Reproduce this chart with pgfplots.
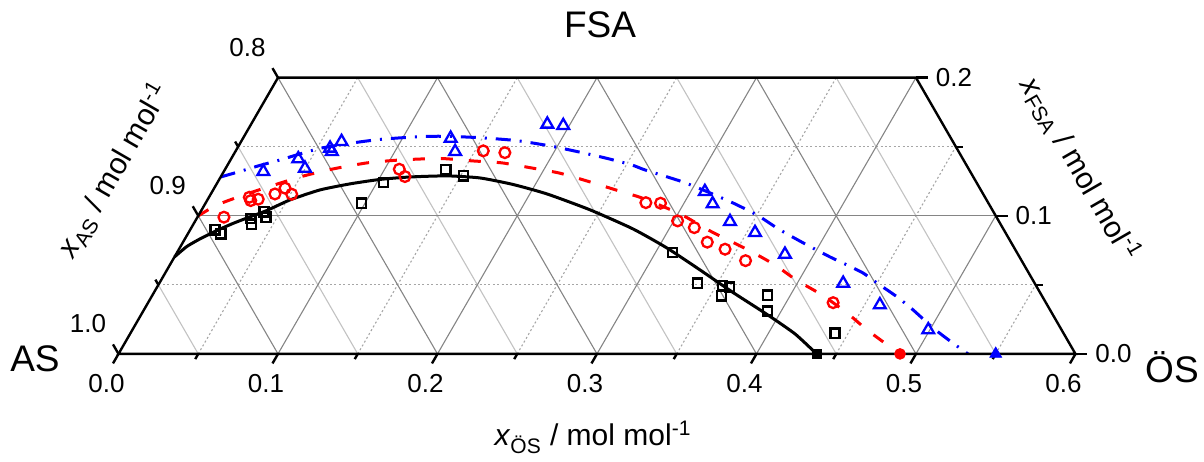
\documentclass[border=0pt]{standalone}
\usepackage{fontspec}
\setmainfont{Liberation Sans}
\usepackage{pgfplots}
\pgfplotsset{compat=1.18}
\usepackage{pgfplotstable}

% compositions: mole fractions of OES and FSA
\pgfplotstableread{
xOS xFSA
0.0156 0.0898
0.0207 0.0869
0.0340 0.0982
0.0365 0.0939
0.0398 0.1028
0.0430 0.0990
0.0979 0.1091
0.1040 0.1240
0.1387 0.1332
0.1518 0.1289
0.3108 0.0733
0.3375 0.0512
0.3542 0.0492
0.3588 0.0483
0.3572 0.0420
0.3856 0.0425
0.3914 0.0311
0.4417 0.0150
}\sqdata

\pgfplotstableread{
xOS xFSA
0.0166 0.0990
0.0253 0.1134
0.0274 0.1110
0.0316 0.1120
0.0402 0.1158
0.0444 0.1200
0.0508 0.1156
0.1092 0.1337
0.1154 0.1284
0.1552 0.1470
0.1694 0.1457
0.2759 0.1095
0.2853 0.1091
0.3024 0.0963
0.3153 0.0914
0.3287 0.0809
0.3424 0.0758
0.3594 0.0675
0.4295 0.0371
}\circdata

\pgfplotstableread{
xOS xFSA
0.0248 0.1320
0.0421 0.1412
0.0497 0.1344
0.0582 0.1489
0.0605 0.1465
0.0630 0.1537
0.1302 0.1561
0.1378 0.1465
0.1857 0.1663
0.1962 0.1653
0.3089 0.1175
0.3182 0.1086
0.3355 0.0958
0.3552 0.0878
0.3818 0.0721
0.4288 0.0511
0.4596 0.0355
0.4990 0.0174
}\tridata

% fitted curves
\pgfplotstableread{
xOS xFSA
0.0000 0.0702
0.0040 0.0778
0.0095 0.0833
0.0171 0.0894
0.0246 0.0945
0.0328 0.0992
0.0412 0.1039
0.0518 0.1115
0.0669 0.1187
0.0836 0.1231
0.1007 0.1263
0.1187 0.1281
0.1416 0.1289
0.1629 0.1274
0.1859 0.1227
0.2108 0.1158
0.2435 0.1043
0.2773 0.0905
0.3055 0.0767
0.3342 0.0608
0.3630 0.0445
0.3923 0.0286
0.4169 0.0145
0.4377 0.0000
}\blackfit

\pgfplotstableread{
xOS xFSA
0.0000 0.0999
0.0079 0.1079
0.0241 0.1166
0.0497 0.1281
0.0675 0.1339
0.0867 0.1383
0.1063 0.1404
0.1308 0.1415
0.1524 0.1397
0.1713 0.1383
0.1913 0.1347
0.2107 0.1310
0.2311 0.1252
0.2525 0.1187
0.2717 0.1129
0.3013 0.1014
0.3279 0.0883
0.3571 0.0753
0.3794 0.0644
0.3980 0.0536
0.4197 0.0427
0.4419 0.0297
0.4606 0.0174
0.4812 0.0051
0.4900 0.0000
}\redfit

\pgfplotstableread{
xOS xFSA
0.0000 0.1281
0.0101 0.1321
0.0205 0.1365
0.0311 0.1404
0.0414 0.1448
0.0519 0.1488
0.0632 0.1513
0.0747 0.1535
0.0863 0.1553
0.0983 0.1564
0.1147 0.1575
0.1291 0.1575
0.1503 0.1564
0.1726 0.1544
0.1952 0.1506
0.2143 0.1465
0.2283 0.1433
0.2377 0.1410
0.2535 0.1368
0.2635 0.1332
0.2916 0.1245
0.3125 0.1166
0.3306 0.1093
0.3500 0.1006
0.3698 0.0898
0.3922 0.0789
0.4110 0.0702
0.4245 0.0644
0.4375 0.0586
0.4498 0.0514
0.4675 0.0413
0.4822 0.0319
0.5013 0.0188
0.5166 0.0094
0.5326 0.0000
}\bluefit

\pgfplotstableread{
xOS xFSA
0.4377 0
}\sqend
\pgfplotstableread{
xOS xFSA
0.4900 0
}\circend
\pgfplotstableread{
xOS xFSA
0.5500 0
}\triend

\newcommand\tickfont{\fontsize{13}{15}\selectfont}
\newcommand\titlefont{\fontsize{15}{18}\selectfont}
\newcommand\cornerfont{\fontsize{18.5}{21}\selectfont}

\pgfplotsset{
  tern/.style={/pgfplots/table/x expr=\thisrow{xOS}+0.5*\thisrow{xFSA},
               /pgfplots/table/y expr=0.866025*\thisrow{xFSA}},
}

\begin{document}
\begin{tikzpicture}[
  majg/.style={draw=black!48, line width=0.55pt},
  ming/.style={draw=black!24, line width=0.55pt},
  dotg/.style={draw=black!35, line width=0.55pt, dash pattern=on 1pt off 1.2pt},
  frm/.style={draw=black, line width=1.2pt},
]
\begin{axis}[
  hide axis, clip=false,
  x=797.5pt, y=797.5pt,
  xmin=-0.0743, xmax=0.6806, ymin=-0.0677, ymax=0.2219,
]
\coordinate (bbSW) at (axis cs:-0.0743,-0.0677);
\coordinate (bbNE) at (axis cs:0.6806,0.2219);

% dotted grid
\draw[dotg] (axis cs:0.025,0.043301) -- (axis cs:0.575,0.043301);
\draw[dotg] (axis cs:0.075,0.129904) -- (axis cs:0.525,0.129904);
\draw[dotg] (axis cs:0.05,0) -- (axis cs:0.15,0.173205);
\draw[dotg] (axis cs:0.15,0) -- (axis cs:0.25,0.173205);
\draw[dotg] (axis cs:0.25,0) -- (axis cs:0.35,0.173205);
\draw[dotg] (axis cs:0.35,0) -- (axis cs:0.45,0.173205);
\draw[dotg] (axis cs:0.45,0) -- (axis cs:0.525,0.129904);
\draw[dotg] (axis cs:0.55,0) -- (axis cs:0.575,0.043301);
% light solid grid
\draw[ming] (axis cs:0.05,0) -- (axis cs:0.025,0.043301);
\draw[ming] (axis cs:0.15,0) -- (axis cs:0.075,0.129904);
\draw[ming] (axis cs:0.25,0) -- (axis cs:0.15,0.173205);
\draw[ming] (axis cs:0.35,0) -- (axis cs:0.25,0.173205);
\draw[ming] (axis cs:0.45,0) -- (axis cs:0.35,0.173205);
\draw[ming] (axis cs:0.55,0) -- (axis cs:0.45,0.173205);
% major grid
\draw[majg] (axis cs:0.05,0.086603) -- (axis cs:0.55,0.086603);
\draw[majg] (axis cs:0.1,0) -- (axis cs:0.2,0.173205);
\draw[majg] (axis cs:0.2,0) -- (axis cs:0.3,0.173205);
\draw[majg] (axis cs:0.3,0) -- (axis cs:0.4,0.173205);
\draw[majg] (axis cs:0.4,0) -- (axis cs:0.5,0.173205);
\draw[majg] (axis cs:0.5,0) -- (axis cs:0.55,0.086603);
\draw[majg] (axis cs:0.1,0) -- (axis cs:0.05,0.086603);
\draw[majg] (axis cs:0.2,0) -- (axis cs:0.1,0.173205);
\draw[majg] (axis cs:0.3,0) -- (axis cs:0.2,0.173205);
\draw[majg] (axis cs:0.4,0) -- (axis cs:0.3,0.173205);
\draw[majg] (axis cs:0.5,0) -- (axis cs:0.4,0.173205);

% curves
\addplot[black, line width=1.5pt, smooth, tension=0.35, no marks] table[tern] {\blackfit};
\addplot[red, line width=1.5pt, smooth, tension=0.35, no marks, dash pattern=on 6pt off 8pt] table[tern] {\redfit};
\addplot[blue, line width=1.5pt, smooth, tension=0.35, no marks, dash pattern=on 7.5pt off 4.5pt on 1pt off 4.5pt] table[tern] {\bluefit};

% measured points
\addplot[only marks, mark=square, mark size=2.3pt, mark options={black, line width=1.15pt}] table[tern] {\sqdata};
\addplot[only marks, mark=o, mark size=2.7pt, mark options={red, line width=1.15pt}] table[tern] {\circdata};
\addplot[only marks, mark=triangle, mark size=3.4pt, mark options={blue, line width=1.15pt}] table[tern] {\tridata};
\addplot[only marks, mark=square*, mark size=2.3pt, mark options={black}] table[tern] {\sqend};
\addplot[only marks, mark=*, mark size=2.7pt, mark options={red}] table[tern] {\circend};
\addplot[only marks, mark=triangle*, mark size=3.4pt, mark options={blue}] table[tern] {\triend};
\fill[white] (axis cs:0.40,-0.008) rectangle (axis cs:0.59,-0.0004);

% frame
\draw[frm] (axis cs:0,0) -- (axis cs:0.6,0) -- (axis cs:0.5,0.173205) -- (axis cs:0.1,0.173205) -- cycle;

% bottom ticks (x_OES)
\draw[frm] (axis cs:0,0) -- ++(240:5.5pt);
\draw[frm] (axis cs:0.1,0) -- ++(240:5.5pt);
\draw[frm] (axis cs:0.2,0) -- ++(240:5.5pt);
\draw[frm] (axis cs:0.3,0) -- ++(240:5.5pt);
\draw[frm] (axis cs:0.4,0) -- ++(240:5.5pt);
\draw[frm] (axis cs:0.5,0) -- ++(240:5.5pt);
\draw[frm] (axis cs:0.6,0) -- ++(240:5.5pt);
\draw[frm] (axis cs:0.05,0) -- ++(240:3pt);
\draw[frm] (axis cs:0.15,0) -- ++(240:3pt);
\draw[frm] (axis cs:0.25,0) -- ++(240:3pt);
\draw[frm] (axis cs:0.35,0) -- ++(240:3pt);
\draw[frm] (axis cs:0.45,0) -- ++(240:3pt);
\draw[frm] (axis cs:0.55,0) -- ++(240:3pt);
% left ticks (x_AS)
\draw[frm] (axis cs:0,0) -- ++(120:5.5pt);
\draw[frm] (axis cs:0.05,0.086603) -- ++(120:5.5pt);
\draw[frm] (axis cs:0.1,0.173205) -- ++(120:5.5pt);
\draw[frm] (axis cs:0.025,0.043301) -- ++(120:3pt);
\draw[frm] (axis cs:0.075,0.129904) -- ++(120:3pt);
% right ticks (x_FSA)
\draw[frm] (axis cs:0.6,0) -- ++(0:6pt);
\draw[frm] (axis cs:0.55,0.086603) -- ++(0:6pt);
\draw[frm] (axis cs:0.5,0.173205) -- ++(0:6pt);
\draw[frm] (axis cs:0.575,0.043301) -- ++(0:3.5pt);
\draw[frm] (axis cs:0.525,0.129904) -- ++(0:3.5pt);

% tick labels
\node[font=\tickfont, xshift=-6pt, yshift=-15pt] at (axis cs:0,0) {0.0};
\node[font=\tickfont, xshift=-6pt, yshift=-15pt] at (axis cs:0.1,0) {0.1};
\node[font=\tickfont, xshift=-6pt, yshift=-15pt] at (axis cs:0.2,0) {0.2};
\node[font=\tickfont, xshift=-6pt, yshift=-15pt] at (axis cs:0.3,0) {0.3};
\node[font=\tickfont, xshift=-6pt, yshift=-15pt] at (axis cs:0.4,0) {0.4};
\node[font=\tickfont, xshift=-6pt, yshift=-15pt] at (axis cs:0.5,0) {0.5};
\node[font=\tickfont, xshift=-6pt, yshift=-15pt] at (axis cs:0.6,0) {0.6};
\node[font=\tickfont, xshift=-15.25pt, yshift=15.25pt] at (axis cs:0,0) {1.0};
\node[font=\tickfont, xshift=-15.25pt, yshift=15.25pt] at (axis cs:0.05,0.086603) {0.9};
\node[font=\tickfont, xshift=-15.25pt, yshift=15.25pt] at (axis cs:0.1,0.173205) {0.8};
\node[font=\tickfont, xshift=19pt] at (axis cs:0.6,0) {0.0};
\node[font=\tickfont, xshift=19pt] at (axis cs:0.55,0.086603) {0.1};
\node[font=\tickfont, xshift=19pt] at (axis cs:0.5,0.173205) {0.2};

% axis titles
\node[font=\titlefont, anchor=base] at (axis cs:0.2975,-0.0577) {\textit{x}\textsubscript{ÖS} / mol mol\textsuperscript{-1}};
\node[font=\titlefont, rotate=60] at (axis cs:-0.0030,0.1150) {\textit{x}\textsubscript{AS} / mol mol\textsuperscript{-1}};
\node[font=\titlefont, rotate=-60] at (axis cs:0.6030,0.1160) {\textit{x}\textsubscript{FSA} / mol mol\textsuperscript{-1}};

% component names
\node[font=\cornerfont, anchor=base] at (axis cs:0.3019,0.1986) {FSA};
\node[font=\cornerfont, anchor=base] at (axis cs:-0.0524,-0.0113) {AS};
\node[font=\cornerfont, anchor=base] at (axis cs:0.6605,-0.0182) {ÖS};
\end{axis}
\pgfresetboundingbox
\path[use as bounding box] (bbSW) rectangle (bbNE);
\end{tikzpicture}
\end{document}
